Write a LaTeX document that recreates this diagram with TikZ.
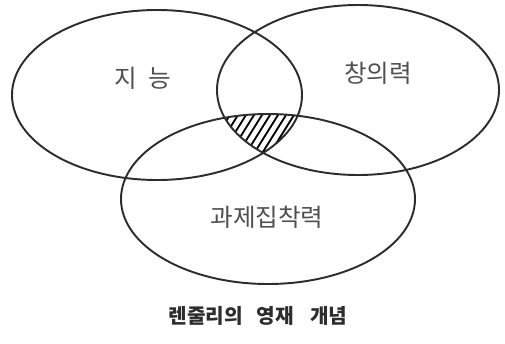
\documentclass[tikz,border=0pt]{standalone}
\usepackage{fontspec}
\newfontfamily\kr{Noto Sans CJK KR}
\usepackage{xcolor}
\usetikzlibrary{arrows.meta}
\definecolor{inkline}{RGB}{45,45,45}
\definecolor{inktext}{RGB}{80,80,80}
\tikzset{
  every picture/.style={line join=round, line cap=round, >=Stealth},
  ring/.style={draw=inkline, line width=1.1pt},
  hatchline/.style={draw=black, line width=1.05pt},
  setlabel/.style={text=inktext, font=\kr\fontsize{14}{16}\selectfont, inner sep=0pt},
  caption/.style={text=inkline, font=\kr\bfseries\fontsize{11.5}{13}\selectfont, inner sep=0pt},
}

\begin{document}
\begin{tikzpicture}
\useasboundingbox (0,0) rectangle (10.1,6.86);
\coordinate (jineung) at (3.14,4.96);
\coordinate (changui) at (7.16,5.06);
\coordinate (gwaje) at (5.36,2.88);
% hatched part where all three overlap
\begin{scope}
\clip (jineung) ellipse [x radius=2.9cm, y radius=1.7cm];
\clip (changui) ellipse [x radius=2.82cm, y radius=1.7cm];
\clip (gwaje) ellipse [x radius=2.94cm, y radius=1.7cm];
\foreach \i in {3.2,3.36,...,5.6}
  \draw[hatchline] (\i,3.6)--++(0.75,1.2);
\end{scope}
\draw[ring] (jineung) ellipse [x radius=2.9cm, y radius=1.7cm]
(changui) ellipse [x radius=2.82cm, y radius=1.7cm]
(gwaje) ellipse [x radius=2.94cm, y radius=1.7cm];
\node[setlabel] (jineunglabel) at (2.86,5.3) {지\hspace{0.45em}능};
\node[setlabel] (changuilabel) at (7.56,5.4) {창의력};
\node[setlabel] (gwajelabel) at (5.34,2.52) {과제집착력};
\node[caption] (title) at (5.16,0.54) {렌줄리의\hspace{0.7em}영재\hspace{0.8em}개념};
\end{tikzpicture}
\end{document}
